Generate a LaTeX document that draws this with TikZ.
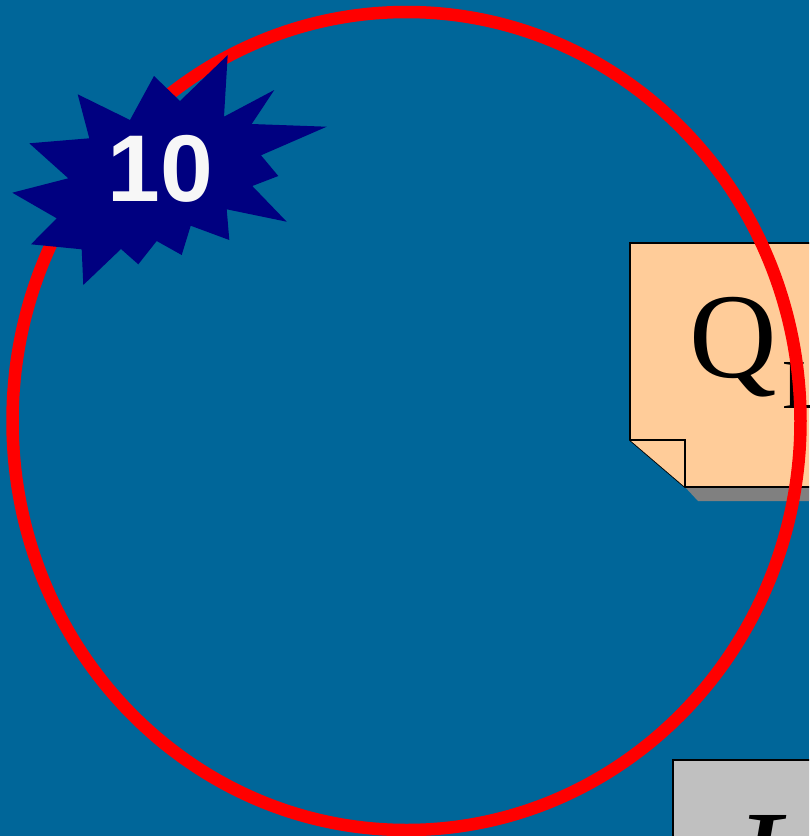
\documentclass[tikz,border=0pt]{standalone}
\usepackage{fontspec}
\setmainfont{Liberation Serif}
\newfontfamily\burstfont{Liberation Sans}
\usetikzlibrary{positioning,calc}
\definecolor{slideblue}{RGB}{0,102,153}
\definecolor{burstnavy}{RGB}{0,0,128}
\definecolor{notepeach}{RGB}{255,204,153}
\definecolor{boxgray}{RGB}{192,192,192}
\definecolor{shadowgray}{RGB}{128,128,128}
\tikzset{
  ring/.style={draw=red, line width=0.25cm},
  burst/.style={fill=burstnavy, draw=none},
  notepaper/.style={fill=notepeach, draw=black, line width=1},
  greybox/.style={fill=boxgray, draw=black, line width=1},
  label10/.style={text=white!97!black, font=\burstfont\bfseries\fontsize{54}{60}\selectfont, inner sep=0},
  bigletter/.style={text=black, inner sep=0}
}

\begin{document}
\begin{tikzpicture}[x=0.02cm, y=-0.02cm]
    \useasboundingbox (0,0) rectangle (809,836);
    \clip (0,0) rectangle (809,836);
    \fill[slideblue] (0,0) rectangle (809,836);

    % sticky note with folded corner
    \coordinate (ntl) at (630,243);
    \coordinate (nfold) at (630,440);
    \coordinate (nbot) at (685,487);
    \fill[shadowgray] (nbot) -- (698,501) -- (830,501) -- (830,487) -- cycle;
    \draw[notepaper] (ntl) -- (830,243) -- (830,487) -- (nbot) -- (nfold) -- cycle;
    \draw[notepaper] (nfold) -- (685,440) -- (nbot);
    \node[bigletter, anchor=base west, font=\fontsize{69}{74}\selectfont] (qmain) at (689,377) {Q};
    \node[bigletter, anchor=base west, font=\fontsize{40}{44}\selectfont] (qsub) at ($(qmain.base east)+(5,31)$) {L};

    % grey box, bottom right
    \draw[greybox] (673,760) rectangle (830,860);
    \node[bigletter, anchor=base west, font=\fontsize{80}{86}\selectfont\itshape] (ival) at (734,907) {I};

    \draw[ring] (406.5,421) ellipse [x radius=394, y radius=409];

    % starburst
    \fill[burst] (227.7,55) -- (224,116.7) -- (274.3,90) -- (251.7,124) -- (326.7,126.7)
      -- (261,155.3) -- (278.3,176) -- (252.3,186) -- (286.7,221.7) -- (226.7,209.3)
      -- (229.3,240) -- (190.7,225.7) -- (181.7,255) -- (156.7,241) -- (138.3,264.3)
      -- (121,249) -- (83.3,285) -- (81.7,249.3) -- (31,244.3) -- (56.7,218.3)
      -- (12.3,192.7) -- (68.3,178.3) -- (29.3,143.3) -- (89.3,138.3) -- (77.7,94.3)
      -- (130,120) -- (154,76) -- (180,101) -- cycle;
    \node[label10] (num) at (160.5,168.5) {10};
\end{tikzpicture}
\end{document}
